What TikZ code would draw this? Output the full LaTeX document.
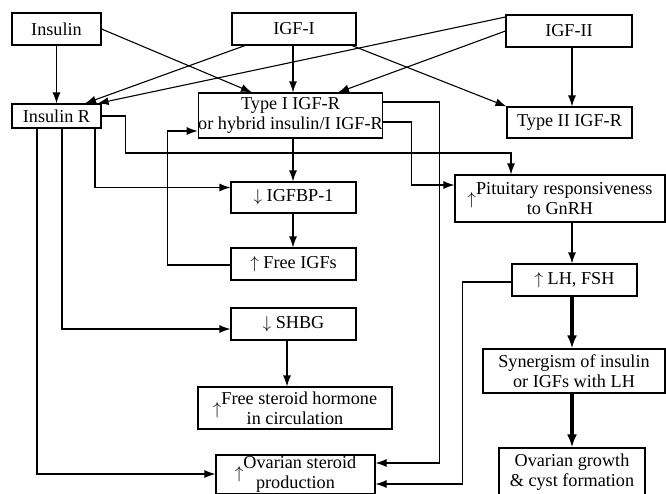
\documentclass[tikz,border=0pt]{standalone}
\usepackage{fontspec}
\setmainfont{Liberation Serif}
\usetikzlibrary{arrows.meta, calc}

\tikzset{
  arr/.style={-{Latex[length=11pt,width=8pt]}, line width=1.1pt, black},
  heavyarr/.style={-{Latex[length=13pt,width=10pt]}, line width=4pt, black},
  hbox/.style={rectangle, draw=black, line width=1.1pt, align=center, inner sep=0pt, fill=white},
}
\newcommand{\upmark}{\smash{\raisebox{-1.2ex}{$\uparrow$}}}

\begin{document}
\begin{tikzpicture}[x=1pt, y=-1pt, font=\fontsize{18.2}{20}\selectfont]
  \useasboundingbox (0,0) rectangle (666,493);

  % Hormones
  \node[hbox, minimum width=89pt, minimum height=32pt] (ins) at (56.5,29) {Insulin};
  \node[hbox, minimum width=124pt, minimum height=32pt] (igfI) at (294,29) {IGF-I};
  \node[hbox, minimum width=126pt, minimum height=32pt] (igfII) at (569,31) {IGF-II};

  % Receptors
  \node[hbox, minimum width=89pt, minimum height=24pt] (insR) at (56.5,116) {Insulin R};
  \node[hbox, minimum width=183pt, minimum height=45pt] (t1r) at (290.5,115.5) {Type I IGF-R\\or hybrid insulin/I IGF-R};
  \node[hbox, minimum width=125pt, minimum height=31pt] (t2r) at (569.5,122.5) {Type II IGF-R};

  % Middle column
  \node[hbox, minimum width=125pt, minimum height=31pt] (bp) at (293.5,197.5) {$\downarrow$ IGFBP-1};
  \node[hbox, minimum width=125pt, minimum height=32pt] (fig) at (293.5,264) {$\uparrow$ Free IGFs};
  \node[hbox, minimum width=125pt, minimum height=32pt] (shbg) at (293.5,324) {$\downarrow$ SHBG};
  \node[hbox, minimum width=194pt, minimum height=42pt] (fsh) at (295,408) {\upmark Free steroid hormone\\in circulation};
  \node[hbox, minimum width=159pt, minimum height=39pt] (osp) at (295.5,474.5) {\upmark Ovarian steroid\\production};

  % Right column
  \node[hbox, minimum width=210pt, minimum height=47pt] (pit) at (560,198.5) {\upmark Pituitary responsiveness\\to GnRH};
  \node[hbox, minimum width=125pt, minimum height=32pt] (lh) at (574.5,280) {$\uparrow$ LH, FSH};
  \node[hbox, minimum width=182pt, minimum height=44pt] (syn) at (574,371) {Synergism of insulin\\or IGFs with LH};
  \node[hbox, minimum width=146pt, minimum height=48pt] (og) at (572,472) {Ovarian growth\\\& cyst formation};

  % Ligand to receptor
  \draw[arr] (ins.east) -- ([xshift=-38.5pt]t1r.north);
  \draw[arr] (ins.south) -- (insR.north);
  \draw[arr] ([xshift=-49pt]igfI.south) -- ([xshift=28.5pt]insR.north);
  \draw[arr] ([xshift=-1pt]igfI.south) -- ([xshift=2.5pt]t1r.north);
  \draw[arr] ([xshift=58pt]igfI.south) -- (t2r.north west);
  \draw[arr] ([yshift=14pt]igfII.west) -- ([xshift=-4pt]insR.north east);
  \draw[arr] (igfII.west) -- ([xshift=47.5pt]t1r.north);
  \draw[arr] ([xshift=3pt]igfII.south) -- ([xshift=2.5pt]t2r.north);

  % From insulin receptor
  \draw[arr] (insR.east) -| ++(24,37) -| ([xshift=-49pt]pit.north);
  \draw[arr] ([xshift=38.5pt]insR.south) |- ([yshift=10pt]bp.west);
  \draw[arr] ([xshift=5.5pt]insR.south) |- ([yshift=-5pt]shbg.west);
  \draw[arr] ([xshift=-19.5pt]insR.south) |- ([yshift=0.5pt]osp.west);

  % From type I receptor
  \draw[arr] ([xshift=2.5pt]t1r.south) -- ([xshift=-0.5pt]bp.north);
  \draw[arr] ([yshift=-6.5pt]t1r.east) -- ++(28,0) |- ([yshift=13.5pt]pit.west);
  \draw[arr] ([yshift=13.5pt]t1r.east) -- ++(56,0) |- ([yshift=11.5pt]osp.east);

  % Binding proteins
  \draw[arr] ([xshift=-0.5pt]bp.south) -- ([xshift=-0.5pt]fig.north);
  \draw[arr] ([yshift=-1pt]fig.west) -- ++(-63,0) |- ([yshift=-15.5pt]t1r.west);
  \draw[arr] ([xshift=-6.5pt]shbg.south) -- ([xshift=-8pt]fsh.north);

  % Gonadotropins
  \draw[arr] ([xshift=12pt]pit.south) -- ([xshift=-2.5pt]lh.north);
  \draw[arr] ([yshift=-2pt]lh.west) -- ++(-49,0) |- ([yshift=-9.5pt]osp.east);
  \draw[heavyarr] ([xshift=-2.5pt]lh.south) -- ([xshift=-2pt]syn.north);
  \draw[heavyarr] ([xshift=-2pt]syn.south) -- (og.north);
\end{tikzpicture}
\end{document}
